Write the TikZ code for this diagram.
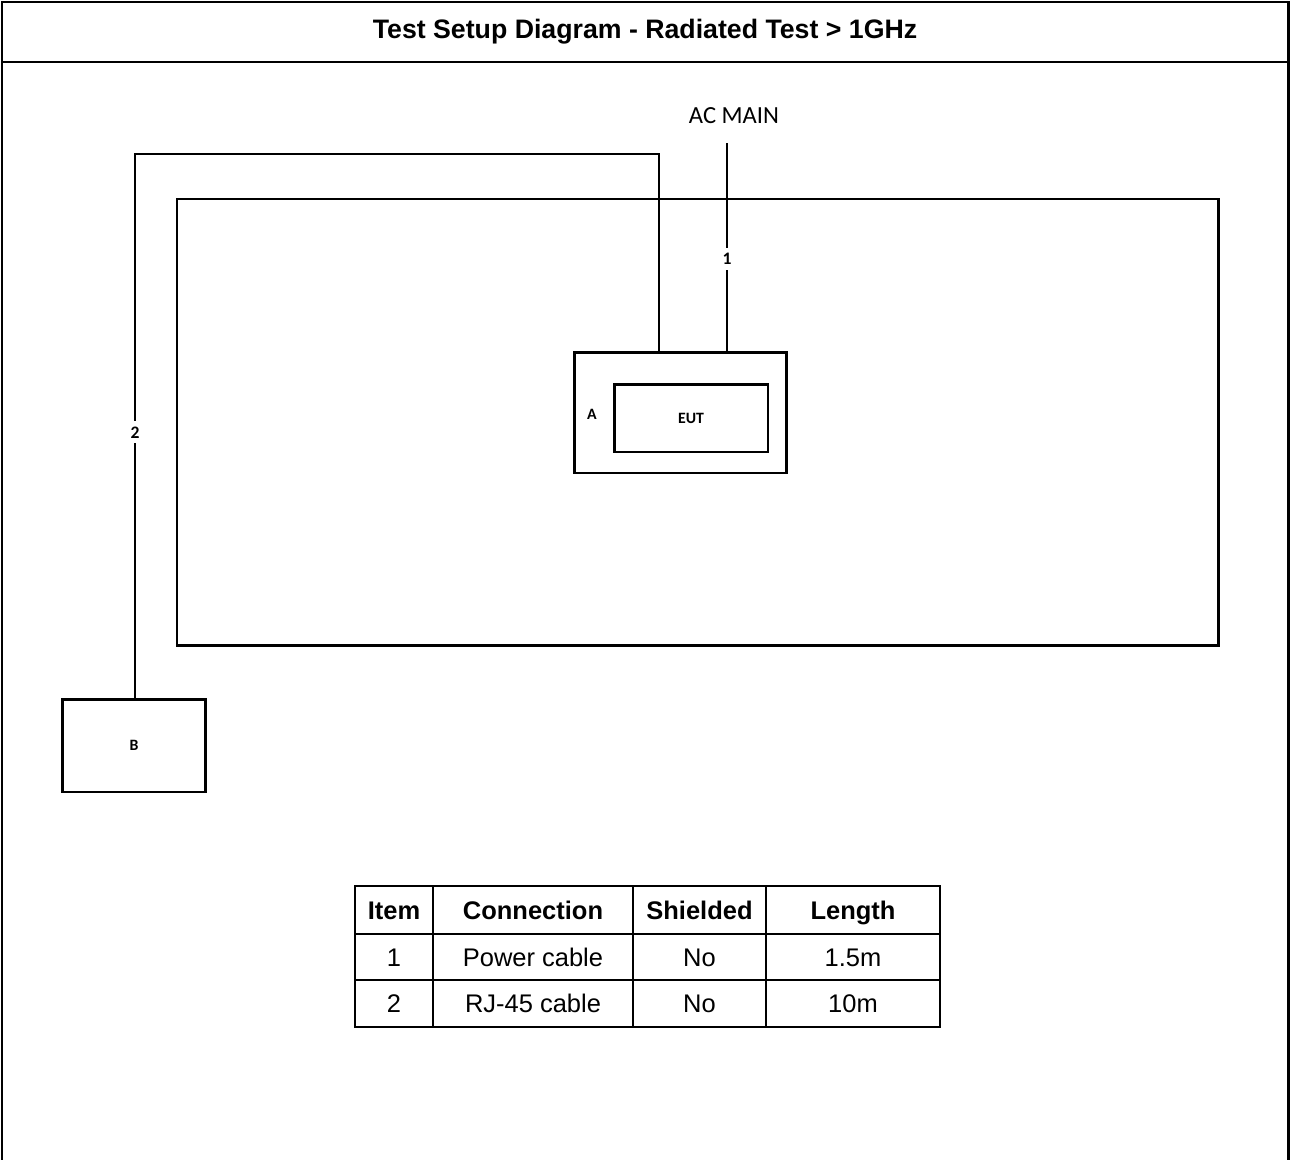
\documentclass[tikz,border=0pt]{standalone}
\usepackage{fontspec}
\setmainfont{Liberation Sans}
\newfontfamily\calibfont{Carlito}
\usetikzlibrary{positioning,calc}
\tikzset{frame/.style={draw=black,line width=1.7pt}, unit/.style={draw=black,line width=1.7pt,inner sep=0pt,fill=white}, cable/.style={draw=black,line width=0.85pt}, tag/.style={fill=white,inner sep=3pt,font=\calibfont\bfseries\fontsize{10}{10}\selectfont}, cell/.style={inner sep=0pt,text height=10.5pt,text depth=3pt,font=\fontsize{14.5}{17}\selectfont}, head/.style={inner sep=0pt,text height=10.5pt,text depth=3pt,font=\bfseries\fontsize{14.5}{17}\selectfont}}

\begin{document}
\begin{tikzpicture}[x=0.02cm,y=-0.02cm]
\useasboundingbox (0,0) rectangle (1290,1159);
\draw[frame] (2,1160) |- (1288,2) -- (1288,1160);
\draw[frame] (2,62) -- (1288,62);
\node[head,font=\bfseries\fontsize{15.2}{18}\selectfont] (title) at (645,32) {Test Setup Diagram - Radiated Test > 1GHz};
\draw[frame] (177,199) rectangle (1218,645);
\coordinate (ac) at (727,143);
\coordinate (bendr) at (659,154);
\coordinate (bendl) at (135,154);
\node[unit,minimum width=4.26cm,minimum height=2.42cm] (unita) at (680.5,412.5) {};
\node[unit,minimum width=3.08cm,minimum height=1.36cm,font=\calibfont\bfseries\fontsize{9}{9}\selectfont] (eut) at (691,418) {EUT};
\node[font=\calibfont\bfseries\fontsize{9}{9}\selectfont] (lba) at (592,414) {A};
\node[unit,minimum width=2.88cm,minimum height=1.86cm,font=\calibfont\bfseries\fontsize{9}{9}\selectfont] (unitb) at (134,745.5) {B};
\node[font=\calibfont\fontsize{14}{16}\selectfont] (acmain) at (734,116) {AC MAIN};
\draw[cable] (ac) -- node[tag,pos=0.56]{1} (ac |- unita.north);
\draw[cable] (unita.north -| bendr) -- (bendr) -- (bendl) -- node[tag,pos=0.512]{2} (bendl |- unitb.north);
% cable list
\draw[draw=black,line width=1.1pt] (355,886) rectangle (940,1027);
\draw[draw=black,line width=1.1pt] (355,934) -- (940,934);
\draw[draw=black,line width=1.1pt] (355,980) -- (940,980);
\draw[draw=black,line width=1.1pt] (433,886) -- (433,1027);
\draw[draw=black,line width=1.1pt] (633,886) -- (633,1027);
\draw[draw=black,line width=1.1pt] (766,886) -- (766,1027);
\node[head] (hitem) at (394,913) {Item};
\node[head] (hconn) at (533,913) {Connection};
\node[head] (hshld) at (699.5,913) {Shielded};
\node[head] (hlen) at (853,913) {Length};
\node[cell] (item1) at (394,960) {1};
\node[cell] (conn1) at (533,960) {Power cable};
\node[cell] (shld1) at (699.5,960) {No};
\node[cell] (len1) at (853,960) {1.5m};
\node[cell] (item2) at (394,1006) {2};
\node[cell] (conn2) at (533,1006) {RJ-45 cable};
\node[cell] (shld2) at (699.5,1006) {No};
\node[cell] (len2) at (853,1006) {10m};
\end{tikzpicture}
\end{document}
